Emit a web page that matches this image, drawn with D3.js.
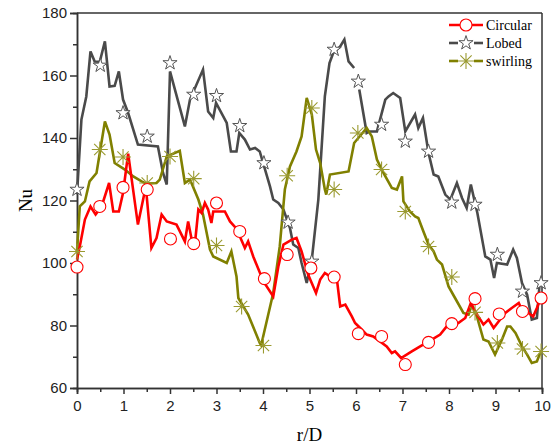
<!DOCTYPE html>
<html>
<head>
<meta charset="utf-8">
<script src="https://cdn.jsdelivr.net/npm/d3@7"></script>
<style>
  body { margin: 0; background: #fff; }
  .tick text { font-family: "Liberation Sans", Arial, sans-serif; font-size: 15px; fill: #222; }
</style>
</head>
<body>
<div id="chart"></div>
<script>
//
// Data
//
var circularLine = [[0,101.1],[0.06,105.3],[0.17,113.9],[0.29,118.1],[0.40,115.5],[0.53,118.1],[0.69,125.6],
  [0.78,116.5],[0.90,116.5],[0.99,122.4],[1.10,135.0],[1.31,112.3],[1.48,124.5],[1.60,104.8],[1.71,108],
  [1.82,115.5],[1.93,113.3],[2.14,112.3],[2.32,106.9],[2.39,113.3],[2.46,108],[2.53,105.3],[2.61,117.1],
  [2.68,116],[2.75,119.2],[2.82,117.1],[2.89,112.8],[2.93,116.5],[3.18,116.5],[3.29,113.3],[3.43,111.0],
  [3.61,104.8],[3.68,106.9],[3.79,102.1],[4.01,94.1],[4.22,89.3],[4.33,98.9],[4.44,105.9],[4.62,107.5],
  [4.72,108],[4.83,103.7],[4.97,96.3],[5.14,90.4],[5.23,94.7],[5.33,96.8],[5.44,95.7],[5.59,94.7],
  [5.66,86.1],[5.77,86.7],[5.91,82.9],[5.98,80.8],[6.09,79.2],[6.23,77.1],[6.37,76.5],[6.66,73.3],
  [6.77,71.2],[6.84,71.7],[6.97,69.6],[7.20,71.7],[7.38,73.3],[7.63,75.5],[7.81,77.1],[7.95,79.7],
  [8.20,80.8],[8.35,82.4],[8.47,87.2],[8.56,84.5],[8.74,80.3],[8.85,81.9],[8.96,79.2],[9.10,81.9],
  [9.21,84],[9.35,85.6],[9.50,87.2],[9.60,84],[9.71,84],[9.81,82.9],[9.89,85.6],[9.96,88.3]];

var lobedLine = [[0,122],[0.095,145.9],[0.20,153.3],[0.29,167.7],[0.38,164.5],[0.49,164.4],[0.60,170.9],
  [0.70,156.5],[0.81,156.7],[0.90,161.3],[0.99,152.3],[1.10,148],[1.31,137.9],[1.74,137.3],[1.85,128.8],
  [1.93,125.1],[2.00,161.3],[2.32,143.7],[2.43,152.3],[2.71,161.9],[2.82,148.5],[2.93,146.4],[2.99,151.2],
  [3.22,144.8],[3.31,135.7],[3.43,135.7],[3.49,141.6],[3.61,139.5],[3.72,136.3],[3.83,136.8],[3.93,135.7],
  [4.15,124.5],[4.22,120.3],[4.33,119.2],[4.44,117.1],[4.58,111.2],[4.65,105.9],[4.76,104.8],[4.83,100],
  [4.94,93.6],[5.05,101.1],[5.19,120.3],[5.33,153.3],[5.43,164],[5.51,167.2],[5.66,169.3],[5.75,171.5],
  [5.84,164.5],[5.96,162.4],null,[6.07,155.5],[6.23,141.6],[6.30,142.1],[6.45,142.1],[6.63,152.3],
  [6.70,153.3],[6.80,154.4],[6.95,152.8],[7.06,142.1],[7.27,147.5],[7.34,143.2],[7.44,146.4],[7.56,135.2],
  [7.67,128.3],[7.77,127.7],[7.92,121.9],[8.03,120.3],[8.17,125.6],[8.28,120.8],[8.38,117.6],[8.47,125.1],
  [8.56,119.2],[8.61,116],[8.78,102.1],[8.89,101.1],[8.97,95.2],[9.03,100],[9.25,99.5],[9.38,104.3],
  [9.46,101.6],[9.57,93.6],[9.68,89.9],[9.78,81.9],[9.89,82.4],[9.95,93.6],[10,93.6]];

var swirlingLine = [[0,103.7],[0.06,118.1],[0.17,119.7],[0.27,126.1],[0.42,128.8],[0.60,145.3],[0.70,141.1],
  [0.81,132],[1.03,129.9],[1.21,127.7],[1.39,126.1],[1.49,125.4],[1.71,125.6],[1.78,126.7],[1.93,134.1],
  [2.21,135.9],[2.32,125.6],[2.43,126.7],[2.61,120.3],[2.71,115.5],[2.86,104.3],[2.93,102.1],[3.22,100],
  [3.32,103.7],[3.43,95.7],[3.47,88.8],[3.68,83.5],[3.83,78.1],[3.93,74.4],[3.96,73.7],[4.22,90.4],
  [4.36,105.3],[4.47,123.5],[4.58,130.9],[4.72,135.7],[4.83,140.5],[4.94,152.8],[5.05,147.5],[5.14,136.3],
  [5.23,132],[5.33,123.5],[5.36,121.9],[5.44,128.3],[5.84,129.3],[5.96,138.4],[6.05,140],[6.23,143.2],
  [6.34,140.5],[6.45,133.1],[6.59,128.8],[6.77,124],[6.88,123.5],[6.99,127.7],[7.02,119.7],[7.16,116.5],
  [7.27,114.9],[7.34,114.4],[7.45,110.1],[7.56,105.9],[7.67,103.7],[7.74,101.1],[7.85,99.5],[7.99,92.5],
  [8.13,88.8],[8.31,84],[8.42,83.5],[8.49,86.7],[8.60,82.9],[8.74,75.5],[8.85,74.9],[8.99,70.7],
  [9.14,75.5],[9.25,79.7],[9.32,79.7],[9.43,77.6],[9.57,73.3],[9.68,70.7],[9.78,68],[9.89,68.5],[9.96,71.2]];

// marker points (drawn on top of the lines)
var circularMarks = [[0,98.7],[0.49,118.1],[0.99,124.2],[1.51,123.5],[2.01,107.7],[2.51,106.2],[3.00,119.2],
  [3.50,110.1],[4.03,95],[4.52,102.7],[5.03,98.4],[5.53,95.5],[6.05,77.4],[6.55,76.5],[7.06,67.5],
  [7.56,74.6],[8.06,80.6],[8.56,88.6],[9.08,83.7],[9.58,84.5],[9.98,88.8]];
var lobedMarks = [[0,123.5],[0.50,163.2],[0.99,148],[1.51,140.5],[2.00,164],[2.51,153.9],[3.00,153.5],
  [3.50,143.9],[4.02,132],[4.54,113],[5.05,100.5],[5.53,168.3],[6.05,158.1],[6.55,144.3],[7.06,138.9],
  [7.56,135.7],[8.06,119.4],[8.56,118.7],[9.04,102.7],[9.58,90.9],[9.98,93.6]];
var swirlingMarks = [[0,103.7],[0.49,136.3],[0.99,133.9],[1.51,125.6],[2.00,134.1],[2.51,127],[3.00,105.6],
  [3.54,86.1],[4.01,73.6],[4.52,127.9],[5.05,149.6],[5.53,123.5],[6.04,141.6],[6.55,129.9],[7.06,116.5],
  [7.56,105.3],[8.06,95.5],[8.56,84.2],[9.04,74.4],[9.58,72.5],[9.98,71.7]];

var seriesNames = ["Circular", "Lobed", "swirling"];
var xTicks = [0,1,2,3,4,5,6,7,8,9,10];
var yTicks = [60,80,100,120,140,160,180];

//
// Global Vars
//
var margin = {top: 13, right: 11, bottom: 58, left: 77},
    width  = 553 - margin.left - margin.right,
    height = 446 - margin.top - margin.bottom;

var colors = {Circular: "#ff0000", Lobed: "#4a4a4a", swirling: "#808000"};

var svg = d3.select("#chart").append("svg")
    .attr("width", 553)
    .attr("height", 446);

var g = svg.append("g")
    .attr("transform", "translate(" + margin.left + "," + margin.top + ")");

var x = d3.scaleLinear().domain([0, 10]).range([0, width]);
var y = d3.scaleLinear().domain([60, 180]).range([height, 0]);

//
// Axes
//
var axisColor = "#333";

var xMinor = g.append("g").attr("transform", "translate(0," + height + ")")
    .call(d3.axisBottom(x).tickValues(d3.range(0.5, 10, 1)).tickSize(4).tickFormat(""));
var xAxis = g.append("g").attr("transform", "translate(0," + height + ")")
    .call(d3.axisBottom(x).tickValues(xTicks).tickSize(6).tickPadding(4).tickFormat(d3.format("d")));

var yMinor = g.append("g")
    .call(d3.axisLeft(y).tickValues(d3.range(70, 180, 20)).tickSize(4).tickFormat(""));
var yAxis = g.append("g")
    .call(d3.axisLeft(y).tickValues(yTicks).tickSize(7).tickPadding(3));

[xMinor, xAxis, yMinor, yAxis].forEach(function(a) {
    a.selectAll("path, line").attr("stroke", axisColor).attr("stroke-width", 1.5);
});
xAxis.selectAll("text").attr("dy", "0.85em");

// frame top/right
g.append("line").attr("x1", 0).attr("x2", width).attr("y1", 0).attr("y2", 0)
    .attr("stroke", axisColor).attr("stroke-width", 1.5);
g.append("line").attr("x1", width).attr("x2", width).attr("y1", 0).attr("y2", height)
    .attr("stroke", axisColor).attr("stroke-width", 1.5);

// axis titles
svg.append("text")
    .attr("x", margin.left + width / 2)
    .attr("y", 441)
    .attr("text-anchor", "middle")
    .style("font-family", "'Liberation Serif', 'Times New Roman', serif")
    .style("font-size", "19px")
    .text("r/D");

svg.append("text")
    .attr("transform", "translate(32," + (margin.top + height / 2) + ") rotate(-90)")
    .attr("text-anchor", "middle")
    .style("font-family", "'Liberation Serif', 'Times New Roman', serif")
    .style("font-size", "19px")
    .text("Nu");

//
// Lines
//
var line = d3.line()
    .defined(function(d) { return d !== null; })
    .x(function(d) { return x(d[0]); })
    .y(function(d) { return y(d[1]); });

var plot = g.append("g");

[["Lobed", lobedLine], ["swirling", swirlingLine], ["Circular", circularLine]].forEach(function(s) {
    plot.append("path")
        .datum(s[1])
        .attr("fill", "none")
        .attr("stroke", colors[s[0]])
        .attr("stroke-width", 2.6)
        .attr("stroke-linejoin", "miter")
        .attr("d", line);
});

// Marker shapes //
var starPath = d3.symbol().type(d3.symbolStar).size(62)();

function asteriskPath(r) {
    var p = "";
    for (var i = 0; i < 4; i++) {
        var a = i * Math.PI / 4;
        var dx = r * Math.cos(a), dy = r * Math.sin(a);
        p += "M" + (-dx) + "," + (-dy) + "L" + dx + "," + dy;
    }
    return p;
}

function drawMarker(sel, name) {
    if (name == "Circular") {
        sel.append("circle").attr("r", 6)
            .attr("fill", "#fff").attr("stroke", colors.Circular).attr("stroke-width", 1.1);
    } else if (name == "Lobed") {
        sel.append("path").attr("d", starPath)
            .attr("fill", "#fff").attr("stroke", "#555").attr("stroke-width", 1);
    } else {
        sel.append("path").attr("d", asteriskPath(8))
            .attr("fill", "none").attr("stroke", "#9a9a30").attr("stroke-width", 1.1);
    }
}

[["swirling", swirlingMarks], ["Lobed", lobedMarks], ["Circular", circularMarks]].forEach(function(s) {
    plot.append("g").selectAll("g")
        .data(s[1])
        .enter().append("g")
        .attr("transform", function(d) { return "translate(" + x(d[0]) + "," + y(d[1]) + ")"; })
        .each(function() { drawMarker(d3.select(this), s[0]); });
});

//
// Legend
//
var legend = svg.append("g");
seriesNames.forEach(function(name, i) {
    var ly = 25 + i * 18;
    var row = legend.append("g");
    if (name == "Circular") {
        row.append("line").attr("x1", 449).attr("x2", 483).attr("y1", ly).attr("y2", ly)
            .attr("stroke", colors[name]).attr("stroke-width", 2.6);
    } else {
        row.append("line").attr("x1", 449).attr("x2", 458).attr("y1", ly).attr("y2", ly)
            .attr("stroke", colors[name]).attr("stroke-width", 2.6);
        row.append("line").attr("x1", 474).attr("x2", 483).attr("y1", ly).attr("y2", ly)
            .attr("stroke", colors[name]).attr("stroke-width", 2.6);
    }
    var m = row.append("g").attr("transform", "translate(466," + ly + ")");
    drawMarker(m, name);
    row.append("text")
        .attr("x", 486).attr("y", ly + 5)
        .style("font-family", "'Liberation Serif', 'Times New Roman', serif")
        .style("font-size", "14px")
        .text(name);
});
</script>
</body>
</html>
